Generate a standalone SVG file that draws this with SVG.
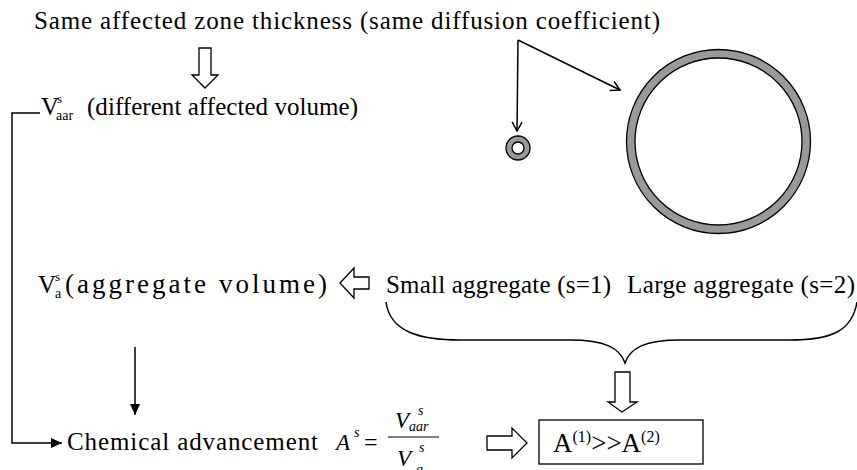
<svg xmlns="http://www.w3.org/2000/svg" width="857" height="470" viewBox="0 0 857 470">
<style>
text{font-family:"Liberation Serif","Times New Roman",serif;fill:#000}
.t{font-size:25px}
.big{font-size:27px}
.sm{font-size:13px}
.sub{font-size:14px}
.m{font-style:italic}
.ln{fill:none;stroke:#000;stroke-width:1.5}
.hol{fill:#fff;stroke:#000;stroke-width:1.3}
.ring{fill:#999;stroke:#000;stroke-width:1.3}
.hole{fill:#fff;stroke:#000;stroke-width:1.3}
</style>
<defs>
<marker id="open" markerWidth="12" markerHeight="12" refX="10" refY="6" orient="auto" markerUnits="userSpaceOnUse">
<path d="M1,1 L10,6 L1,11" fill="none" stroke="#000" stroke-width="1.5"/>
</marker>
<marker id="solid" markerWidth="12" markerHeight="12" refX="11" refY="6" orient="auto" markerUnits="userSpaceOnUse">
<path d="M0,1 L11,6 L0,11 Z" fill="#000"/>
</marker>
</defs>

<g id="title">
<text class="t" x="34" y="29" textLength="626" lengthAdjust="spacing">Same affected zone thickness (same diffusion coefficient)</text>
</g>

<g id="vaar">
<text class="t" x="41" y="115">V</text>
<text class="sm" x="57" y="103">s</text>
<text class="sub" x="56" y="120">aar</text>
<text class="t" x="87" y="115" textLength="271" lengthAdjust="spacing">(different affected volume)</text>
</g>

<g id="va">
<text class="t" x="38" y="293">V</text>
<text class="sm" x="55" y="281">s</text>
<text class="sub" x="55" y="298">a</text>
<text class="big" x="65" y="293" textLength="262" lengthAdjust="spacing">(aggregate volume)</text>
</g>

<g id="small">
<text class="t" x="386" y="293" textLength="225" lengthAdjust="spacing">Small aggregate (s=1)</text>
</g>
<g id="large">
<text class="t" x="627" y="293" textLength="228" lengthAdjust="spacing">Large aggregate (s=2)</text>
</g>

<g id="chem">
<text class="t" x="67" y="450" textLength="251" lengthAdjust="spacing">Chemical advancement</text>
</g>

<g id="formula">
<text class="m" x="336" y="450" font-size="23">A</text>
<text class="m" x="354" y="437" font-size="14">s</text>
<text x="364" y="450" font-size="24">=</text>
<line x1="388" y1="437" x2="439" y2="437" stroke="#000" stroke-width="1"/>
<text class="m" x="395" y="428" font-size="23">V</text>
<text class="m" x="418" y="415" font-size="14">s</text>
<text class="m" x="409" y="431" font-size="14">aar</text>
<text class="m" x="397" y="466" font-size="23">V</text>
<text class="m" x="419" y="452" font-size="14">s</text>
<text class="m" x="416" y="474" font-size="14">a</text>
</g>

<g id="result">
<rect x="539" y="420" width="164" height="44" fill="#fff" stroke="#000" stroke-width="1.3"/>
<text x="553" y="452" font-size="27">A<tspan font-size="16" dy="-10">(1)</tspan><tspan dy="10">&gt;&gt;A</tspan><tspan font-size="16" dy="-10">(2)</tspan></text>
</g>

<g id="smallring">
<circle class="ring" cx="518" cy="148" r="12"/>
<circle class="hole" cx="518" cy="148" r="6"/>
</g>
<g id="largering">
<circle class="ring" cx="718.5" cy="141.5" r="92"/>
<circle class="hole" cx="718.5" cy="141.5" r="83.5"/>
</g>

<g id="brace">
<path class="ln" d="M386,302 C390,332 420,340 460,340 L570,340 C605,340 620,348 625,363 C630,348 645,340 680,340 L790,340 C830,340 852,332 857,302" stroke-width="1.3"/>
</g>

<g id="connectors">
<polygon class="hol" points="199,48 211,48 211,75 218,75 205,88 192,75 199,75"/>
<polygon class="hol" points="369,277 369,289 354,289 354,298 340,283 354,268 354,277"/>
<polygon class="hol" points="615,372 630,372 630,402 637,402 622,412 608,402 615,402"/>
<polygon class="hol" points="487,436 512,436 512,428 527,443 512,458 512,450 487,450"/>
<line class="ln" x1="518" y1="40" x2="517" y2="131" marker-end="url(#open)"/>
<line class="ln" x1="518" y1="40" x2="620" y2="90" marker-end="url(#open)"/>
<polyline class="ln" points="40,113 12,113 12,443 62,443" marker-end="url(#solid)"/>
<line class="ln" x1="135" y1="347" x2="135" y2="415" marker-end="url(#solid)"/>
</g>
</svg>
